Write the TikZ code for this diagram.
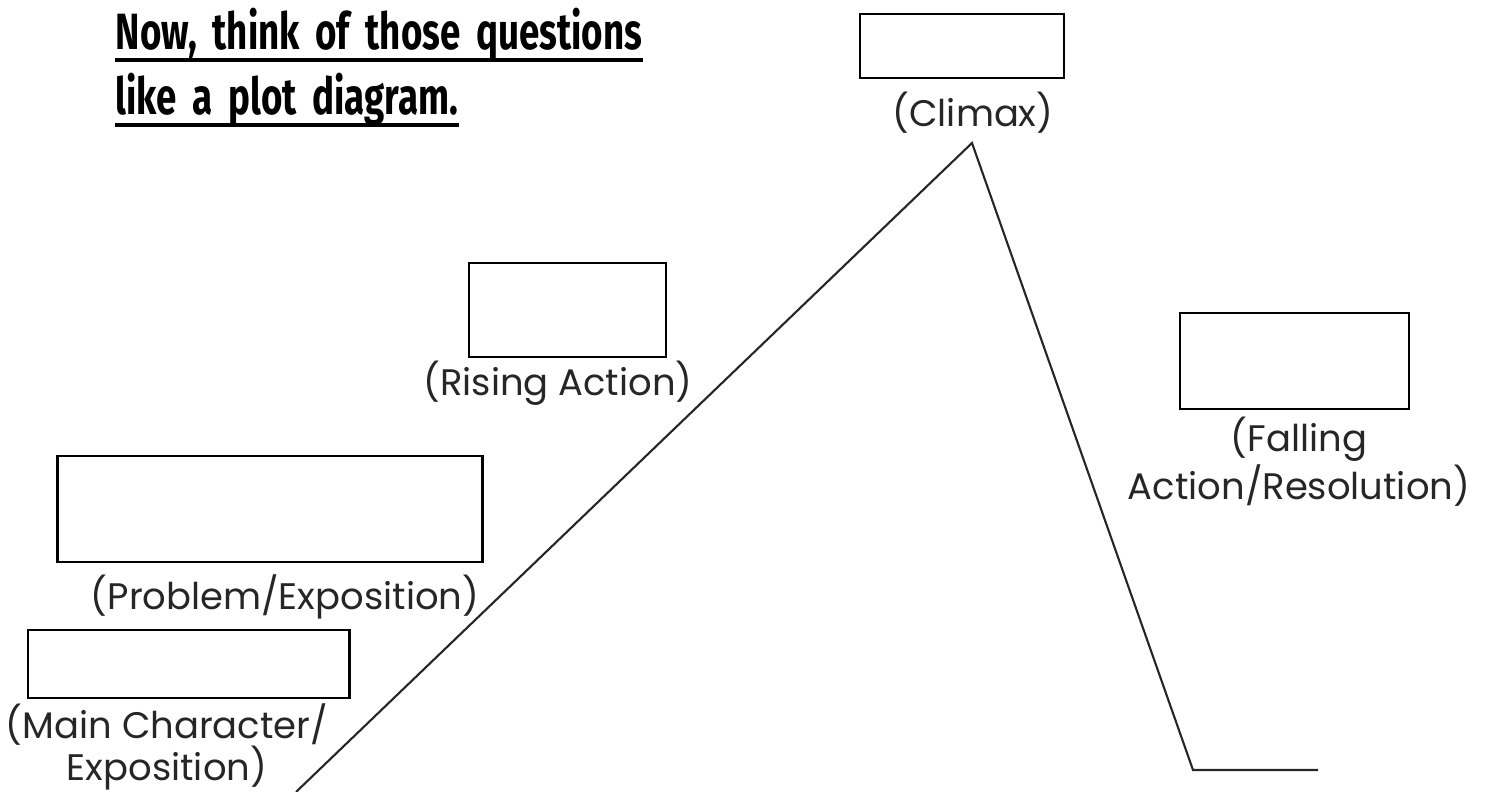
\documentclass[tikz,border=0pt]{standalone}
\usepackage{fontspec}
\usetikzlibrary{positioning}
\newfontfamily\labelfont{Poppins}
\newfontfamily\titlefont[FakeStretch=0.72, WordSpace=1.8]{Fira Sans}
\tikzset{
  ansbox/.style={draw=black, line width=0.8pt, fill=white, inner sep=0pt},
  plotline/.style={draw=black!85, line width=0.6pt, line join=miter},
  lab/.style={text=black!85, font=\labelfont\fontsize{10.5}{12}\selectfont, align=center, inner sep=0pt},
  head/.style={font=\titlefont\fontseries{sb}\selectfont\fontsize{14.5}{18}\selectfont, inner sep=0pt, anchor=base west},
  uline/.style={draw=black, line width=1.1pt},
}
\begin{document}
\begin{tikzpicture}[x=0.01cm, y=-0.01cm]
  \useasboundingbox (0,0) rectangle (1493,792);
  % heading
  \node[head] (headone) at (115,50) {Now, think of those questions};
  \node[head] (headtwo) at (115,115) {like a plot diagram.};
  \draw[uline] ([yshift=-2.8pt]headone.base west) -- ([yshift=-2.8pt]headone.base east);
  \draw[uline] ([yshift=-2.8pt]headtwo.base west) -- ([yshift=-2.8pt]headtwo.base east);
  % plot line
  \coordinate (start) at (296,792);
  \coordinate (peak) at (972,143);
  \coordinate (trough) at (1193,770);
  \coordinate (finish) at (1318,770);
  \draw[plotline] (start) -- (peak) -- (trough) -- (finish);
  % boxes
  \node[ansbox, minimum width=2.04cm, minimum height=0.64cm] (climaxbox) at (962,46) {};
  \node[ansbox, minimum width=1.97cm, minimum height=0.94cm] (risingbox) at (567.5,310) {};
  \node[ansbox, minimum width=2.29cm, minimum height=0.96cm] (fallingbox) at (1294.5,361) {};
  \node[ansbox, minimum width=4.24cm, minimum height=1.06cm] (problembox) at (270,509) {};
  \node[ansbox, minimum width=3.21cm, minimum height=0.68cm] (mainbox) at (188.5,664) {};
  % labels
  \node[lab] (climaxlab) at (973,113) {(Climax)};
  \node[lab] (risinglab) at (558,383) {(Rising Action)};
  \node[lab] (fallinglab) at (1299,462) {(Falling\\Action/Resolution)};
  \node[lab] (problemlab) at (285,597) {(Problem/Exposition)};
  \node[lab] (mainlab) at (167,747) {(Main Character/\\Exposition)};
\end{tikzpicture}
\end{document}
